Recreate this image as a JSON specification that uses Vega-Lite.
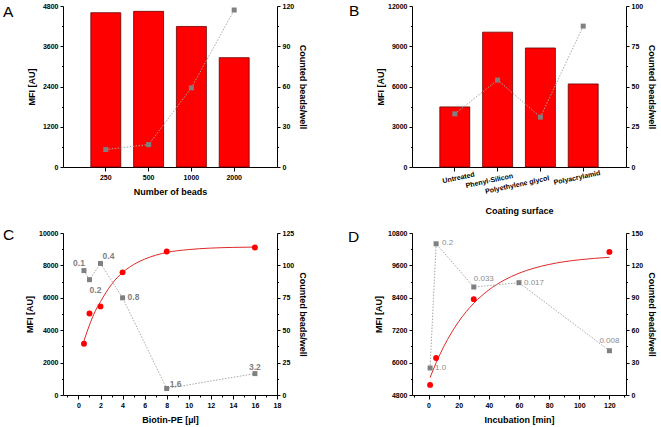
{
"$schema": "https://vega.github.io/schema/vega-lite/v6.json",
"background": "white",
"padding": {"left": 3, "top": 2, "right": 3, "bottom": 3},
"autosize": {"type": "pad"},
"bounds": "flush",
"columns": 2,
"spacing": {"row": 66, "column": 135},
"datasets": {
"A": [{"beads":"250","mfi":4600,"count":13},{"beads":"500","mfi":4640,"count":16.7},{"beads":"1000","mfi":4190,"count":59},{"beads":"2000","mfi":3260,"count":117}],
"B": [{"surface":"Untreated","mfi":4480,"count":33},{"surface":"Phenyl-Silicon","mfi":10050,"count":54},{"surface":"Polyethylene glycol","mfi":8870,"count":31},{"surface":"Polyacrylamid","mfi":6190,"count":87.5}],
"C": [{"ul":0.5,"mfi":3160,"count":96,"lab":"0.1"},{"ul":1,"mfi":5030,"count":89,"lab":"0.2"},{"ul":2,"mfi":5470,"count":101.5,"lab":"0.4"},{"ul":4,"mfi":7570,"count":75,"lab":"0.8"},{"ul":8,"mfi":8860,"count":5,"lab":"1.6"},{"ul":16,"mfi":9110,"count":16.5,"lab":"3.2"}],
"Cfit": [{"ul":0.5,"mfi":3340},{"ul":1,"mfi":4320},{"ul":1.5,"mfi":5138},{"ul":2,"mfi":5760},{"ul":3,"mfi":6830},{"ul":4,"mfi":7560},{"ul":5,"mfi":8050},{"ul":6,"mfi":8390},{"ul":7,"mfi":8626},{"ul":8,"mfi":8800},{"ul":10,"mfi":8977},{"ul":12,"mfi":9068},{"ul":14,"mfi":9111},{"ul":16,"mfi":9131}],
"D": [{"min":1,"mfi":5175,"count":25,"lab":"1.0"},{"min":5,"mfi":6170,"count":140,"lab":"0.2"},{"min":30,"mfi":8350,"count":100,"lab":"0.033"},{"min":60,"mfi":null,"count":104,"lab":"0.017"},{"min":120,"mfi":10100,"count":41,"lab":"0.008"}],
"Dfit": [{"min":1,"mfi":5446},{"min":5,"mfi":5992},{"min":10,"mfi":6585},{"min":15,"mfi":7089},{"min":20,"mfi":7521},{"min":25,"mfi":7888},{"min":30,"mfi":8199},{"min":40,"mfi":8692},{"min":50,"mfi":9050},{"min":60,"mfi":9310},{"min":70,"mfi":9499},{"min":80,"mfi":9636},{"min":90,"mfi":9736},{"min":100,"mfi":9808},{"min":110,"mfi":9861},{"min":120,"mfi":9899}]
},
"concat": [
{
"width": 214, "height": 161,
"title": {"text": "A", "anchor": "start", "frame": "group", "baseline": "top", "offset": 0, "dx": -60, "dy": 18.4},
"data": {"name": "A"},
"encoding": {"x": {"field": "beads", "type": "nominal", "sort": null, "scale": {"paddingInner": 0.3, "paddingOuter": 0.65}, "axis": {"title": "Number of beads", "labelAngle": 0, "tickSize": 4, "titlePadding": 7, "labelOverlap": false}}},
"layer": [
{"mark": {"type": "bar", "color": "#ff0000", "stroke": "#6a0000", "strokeWidth": 0.8},
 "encoding": {"y": {"field": "mfi", "type": "quantitative", "scale": {"domain": [0, 4800], "nice": false}, "axis": {"orient": "left", "title": "MFI [AU]", "titlePadding": 6, "labelOverlap": false, "tickCount": 50, "values": [0,600,1200,1800,2400,3000,3600,4200,4800], "format": "d", "labelExpr": "datum.value % 1200 === 0 ? datum.label : ''", "tickSize": {"condition": {"test": "datum.value % 1200 !== 0", "value": 1.5}, "value": 3}}}}},
{"layer": [
 {"mark": {"type": "line", "color": "#a8a8a8", "strokeWidth": 1, "strokeDash": [1.5, 1.5]},
  "encoding": {"y": {"field": "count", "type": "quantitative", "scale": {"domain": [0, 120], "nice": false}, "axis": {"orient": "right", "title": "Counted beads/well", "labelOverlap": false, "tickCount": 50, "values": [0,15,30,45,60,75,90,105,120], "format": "d", "labelExpr": "datum.value % 30 === 0 ? datum.label : ''", "tickSize": {"condition": {"test": "datum.value % 30 !== 0", "value": 1.5}, "value": 3}}}}},
 {"mark": {"type": "square", "color": "#808080", "size": 25, "opacity": 1},
  "encoding": {"y": {"field": "count", "type": "quantitative"}}}
]}
],
"resolve": {"scale": {"y": "independent"}}
},
{
"width": 214, "height": 161,
"title": {"text": "B", "anchor": "start", "frame": "group", "baseline": "top", "offset": 0, "dx": -63, "dy": 17.4},
"data": {"name": "B"},
"encoding": {"x": {"field": "surface", "type": "nominal", "sort": null, "scale": {"paddingInner": 0.3, "paddingOuter": 0.65}, "axis": {"title": "Coating surface", "labelOverlap": false, "labelAngle": -12, "labelAlign": "center", "labelBaseline": "top", "tickSize": 4, "titlePadding": 12,
  "labelOffset": {"condition": [{"test": "datum.value === 'Untreated'", "value": 3}, {"test": "datum.value === 'Phenyl-Silicon'", "value": -9}, {"test": "datum.value === 'Polyethylene glycol'", "value": -24}], "value": -7},
  "labelPadding": {"condition": [{"test": "datum.value === 'Phenyl-Silicon'", "value": 5.5}, {"test": "datum.value === 'Polyethylene glycol'", "value": 9.5}], "value": 2.5}}}},
"layer": [
{"mark": {"type": "bar", "color": "#ff0000", "stroke": "#6a0000", "strokeWidth": 0.8},
 "encoding": {"y": {"field": "mfi", "type": "quantitative", "scale": {"domain": [0, 12000], "nice": false}, "axis": {"orient": "left", "title": "MFI [AU]", "titlePadding": 2, "labelOverlap": false, "tickCount": 50, "values": [0,1500,3000,4500,6000,7500,9000,10500,12000], "format": "d", "labelExpr": "datum.value % 3000 === 0 ? datum.label : ''", "tickSize": {"condition": {"test": "datum.value % 3000 !== 0", "value": 1.5}, "value": 3}}}}},
{"layer": [
 {"mark": {"type": "line", "color": "#a8a8a8", "strokeWidth": 1, "strokeDash": [1.5, 1.5]},
  "encoding": {"y": {"field": "count", "type": "quantitative", "scale": {"domain": [0, 100], "nice": false}, "axis": {"orient": "right", "title": "Counted beads/well", "labelOverlap": false, "tickCount": 50, "values": [0,12.5,25,37.5,50,62.5,75,87.5,100], "format": "d", "labelExpr": "datum.value % 25 === 0 ? datum.label : ''", "tickSize": {"condition": {"test": "datum.value % 25 !== 0", "value": 1.5}, "value": 3}}}}},
 {"mark": {"type": "square", "color": "#808080", "size": 25, "opacity": 1},
  "encoding": {"y": {"field": "count", "type": "quantitative"}}}
]}
],
"resolve": {"scale": {"y": "independent"}}
},
{
"width": 214, "height": 162,
"title": {"text": "C", "anchor": "start", "frame": "group", "baseline": "top", "offset": 0, "dx": -60, "dy": 14.8},
"encoding": {"x": {"field": "ul", "type": "quantitative", "scale": {"domain": [-1.4, 18], "nice": false, "zero": false}, "axis": {"title": "Biotin-PE [µl]", "labelOverlap": false, "tickCount": 50, "format": "d", "values": [-1,0,1,2,3,4,5,6,7,8,9,10,11,12,13,14,15,16,17,18], "labelExpr": "datum.value % 2 === 0 ? datum.label : ''", "tickSize": {"condition": {"test": "datum.value % 2 !== 0", "value": 2}, "value": 4}, "titlePadding": 7}}},
"layer": [
{"layer": [
 {"data": {"name": "Cfit"}, "mark": {"type": "line", "color": "#e02828", "strokeWidth": 1, "interpolate": "monotone"},
  "encoding": {"y": {"field": "mfi", "type": "quantitative", "scale": {"domain": [0, 10000], "nice": false}, "axis": {"orient": "left", "title": "MFI [AU]", "labelOverlap": false, "tickCount": 50, "values": [0,1000,2000,3000,4000,5000,6000,7000,8000,9000,10000], "format": "d", "labelExpr": "datum.value % 2000 === 0 ? datum.label : ''", "tickSize": {"condition": {"test": "datum.value % 2000 !== 0", "value": 1.5}, "value": 3}}}}},
 {"data": {"name": "C"}, "mark": {"type": "circle", "color": "#ff0000", "size": 35, "opacity": 1},
  "encoding": {"y": {"field": "mfi", "type": "quantitative"}}}
]},
{"data": {"name": "C"}, "layer": [
 {"mark": {"type": "line", "color": "#a8a8a8", "strokeWidth": 1, "strokeDash": [1.5, 1.5]},
  "encoding": {"y": {"field": "count", "type": "quantitative", "scale": {"domain": [0, 125], "nice": false}, "axis": {"orient": "right", "title": "Counted beads/well", "labelOverlap": false, "tickCount": 50, "values": [0,12.5,25,37.5,50,62.5,75,87.5,100,112.5,125], "format": "d", "labelExpr": "datum.value % 25 === 0 ? datum.label : ''", "tickSize": {"condition": {"test": "datum.value % 25 !== 0", "value": 1.5}, "value": 3}}}}},
 {"mark": {"type": "square", "color": "#808080", "size": 25, "opacity": 1},
  "encoding": {"y": {"field": "count", "type": "quantitative"}}},
 {"transform": [{"filter": "datum.lab === '0.1'"}], "mark": {"type": "text", "color": "#808080", "fontSize": 8.5, "fontWeight": "bold", "align": "center", "baseline": "middle", "dx": -5, "dy": -8},
  "encoding": {"y": {"field": "count", "type": "quantitative"}, "text": {"field": "lab"}}},
 {"transform": [{"filter": "datum.lab === '0.2'"}], "mark": {"type": "text", "color": "#808080", "fontSize": 8.5, "fontWeight": "bold", "align": "center", "baseline": "middle", "dx": 6, "dy": 10},
  "encoding": {"y": {"field": "count", "type": "quantitative"}, "text": {"field": "lab"}}},
 {"transform": [{"filter": "datum.lab === '0.4'"}], "mark": {"type": "text", "color": "#808080", "fontSize": 8.5, "fontWeight": "bold", "align": "center", "baseline": "middle", "dx": 8, "dy": -7},
  "encoding": {"y": {"field": "count", "type": "quantitative"}, "text": {"field": "lab"}}},
 {"transform": [{"filter": "datum.lab === '0.8'"}], "mark": {"type": "text", "color": "#808080", "fontSize": 8.5, "fontWeight": "bold", "align": "left", "baseline": "middle", "dx": 5, "dy": -1},
  "encoding": {"y": {"field": "count", "type": "quantitative"}, "text": {"field": "lab"}}},
 {"transform": [{"filter": "datum.lab === '1.6'"}], "mark": {"type": "text", "color": "#808080", "fontSize": 8.5, "fontWeight": "bold", "align": "left", "baseline": "middle", "dx": 3, "dy": -5},
  "encoding": {"y": {"field": "count", "type": "quantitative"}, "text": {"field": "lab"}}},
 {"transform": [{"filter": "datum.lab === '3.2'"}], "mark": {"type": "text", "color": "#808080", "fontSize": 8.5, "fontWeight": "bold", "align": "center", "baseline": "middle", "dx": 0, "dy": -7},
  "encoding": {"y": {"field": "count", "type": "quantitative"}, "text": {"field": "lab"}}}
]}
],
"resolve": {"scale": {"y": "independent"}}
},
{
"width": 214, "height": 162,
"title": {"text": "D", "anchor": "start", "frame": "group", "baseline": "top", "offset": 0, "dx": -64, "dy": 16.4},
"encoding": {"x": {"field": "min", "type": "quantitative", "scale": {"domain": [-11, 131], "nice": false, "zero": false}, "axis": {"title": "Incubation [min]", "labelOverlap": false, "tickCount": 50, "format": "d", "values": [-10,0,10,20,30,40,50,60,70,80,90,100,110,120,130], "labelExpr": "datum.value % 20 === 0 ? datum.label : ''", "tickSize": {"condition": {"test": "datum.value % 20 !== 0", "value": 2}, "value": 4}, "titlePadding": 7}}},
"layer": [
{"layer": [
 {"data": {"name": "Dfit"}, "mark": {"type": "line", "color": "#e02828", "strokeWidth": 1, "interpolate": "monotone"},
  "encoding": {"y": {"field": "mfi", "type": "quantitative", "scale": {"domain": [4800, 10800], "nice": false, "zero": false}, "axis": {"orient": "left", "title": "MFI [AU]", "labelOverlap": false, "tickCount": 50, "values": [4800,5400,6000,6600,7200,7800,8400,9000,9600,10200,10800], "format": "d", "labelExpr": "datum.value % 1200 === 0 ? datum.label : ''", "tickSize": {"condition": {"test": "datum.value % 1200 !== 0", "value": 1.5}, "value": 3}}}}},
 {"data": {"name": "D"}, "mark": {"type": "circle", "color": "#ff0000", "size": 35, "opacity": 1},
  "encoding": {"y": {"field": "mfi", "type": "quantitative"}}}
]},
{"data": {"name": "D"}, "layer": [
 {"mark": {"type": "line", "color": "#a8a8a8", "strokeWidth": 1, "strokeDash": [1.5, 1.5]},
  "encoding": {"y": {"field": "count", "type": "quantitative", "scale": {"domain": [0, 150], "nice": false}, "axis": {"orient": "right", "title": "Counted beads/well", "labelOverlap": false, "tickCount": 50, "values": [0,15,30,45,60,75,90,105,120,135,150], "format": "d", "labelExpr": "datum.value % 30 === 0 ? datum.label : ''", "tickSize": {"condition": {"test": "datum.value % 30 !== 0", "value": 1.5}, "value": 3}}}}},
 {"mark": {"type": "square", "color": "#808080", "size": 25, "opacity": 1},
  "encoding": {"y": {"field": "count", "type": "quantitative"}}},
 {"transform": [{"filter": "datum.lab === '1.0' || datum.lab === '0.017'"}], "mark": {"type": "text", "color": "#8c8c8c", "fontSize": 8, "align": "left", "baseline": "middle", "dx": 5, "dy": 0},
  "encoding": {"y": {"field": "count", "type": "quantitative"}, "text": {"field": "lab"}}},
 {"transform": [{"filter": "datum.lab === '0.2'"}], "mark": {"type": "text", "color": "#8c8c8c", "fontSize": 8, "align": "left", "baseline": "middle", "dx": 6, "dy": -1},
  "encoding": {"y": {"field": "count", "type": "quantitative"}, "text": {"field": "lab"}}},
 {"transform": [{"filter": "datum.lab === '0.033'"}], "mark": {"type": "text", "color": "#8c8c8c", "fontSize": 8, "align": "left", "baseline": "middle", "dx": 0, "dy": -8},
  "encoding": {"y": {"field": "count", "type": "quantitative"}, "text": {"field": "lab"}}},
 {"transform": [{"filter": "datum.lab === '0.008'"}], "mark": {"type": "text", "color": "#8c8c8c", "fontSize": 8, "align": "center", "baseline": "middle", "dx": 0, "dy": -10},
  "encoding": {"y": {"field": "count", "type": "quantitative"}, "text": {"field": "lab"}}}
]}
],
"resolve": {"scale": {"y": "independent"}}
}
],
"config": {
"font": "Liberation Sans",
"view": {"stroke": null},
"title": {"font": "Liberation Sans", "fontSize": 15.5, "fontWeight": "normal", "color": "#000000"},
"axis": {"grid": false, "domainColor": "#000000", "domainWidth": 1, "tickColor": "#000000", "tickWidth": 1, "labelFont": "Liberation Sans", "labelFontWeight": "bold", "labelFontSize": 7, "labelColor": "#000000", "labelPadding": 2, "labelOverlap": false, "labelFlush": false, "titleFont": "Liberation Sans", "titleFontWeight": "bold", "titleFontSize": 9, "titleColor": "#000000", "titlePadding": 4}
}
}
